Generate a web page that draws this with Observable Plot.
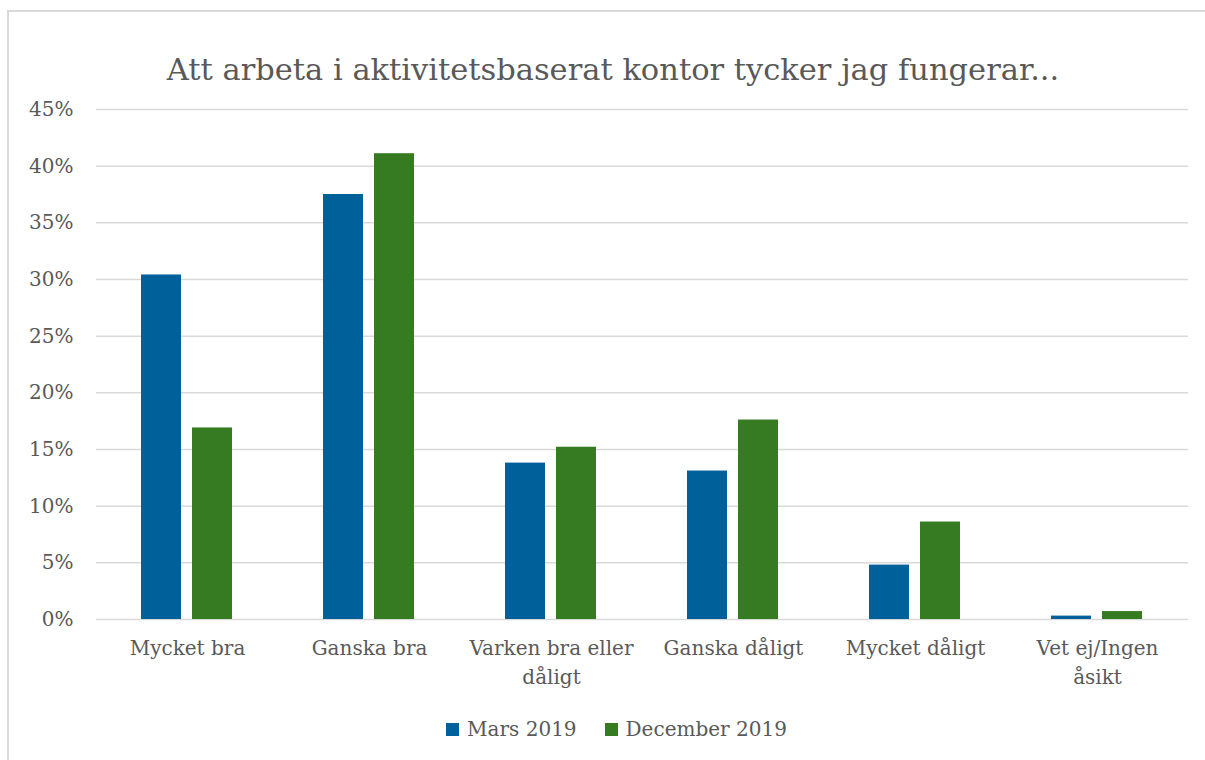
<!DOCTYPE html>
<html>
<head>
<meta charset="utf-8">
<script src="https://cdn.jsdelivr.net/npm/d3@7"></script>
<script src="https://cdn.jsdelivr.net/npm/@observablehq/plot@0.6"></script>
<style>
  html, body { margin: 0; padding: 0; background: #fff; }
  #wrap { position: relative; width: 1205px; height: 760px; overflow: hidden; font-family: "DejaVu Serif", serif; color: #595959; }
  #frame { position: absolute; left: 7px; top: 10px; width: 1300px; height: 900px; border-left: 2px solid #d9d9d9; border-top: 2px solid #d9d9d9; }
  #title { position: absolute; left: 8px; width: 1210px; top: 50px; text-align: center; font-size: 30.5px; line-height: 40px; white-space: nowrap; }
  #chart { position: absolute; left: 0; top: 90px; }
  #legend { position: absolute; left: 14px; width: 1205px; top: 714px; text-align: center; font-size: 20px; line-height: 30px; white-space: nowrap; }
  .sw { display: inline-block; width: 13px; height: 13px; margin-right: 8px; vertical-align: 0px; }
  .item { display: inline-block; margin: 0 14px; }
</style>
</head>
<body>
<div id="wrap">
  <div id="frame"></div>
  <div id="title"></div>
  <div id="chart"></div>
  <div id="legend"></div>
</div>
<script>
const title = "Att arbeta i aktivitetsbaserat kontor tycker jag fungerar...";
const categories = ["Mycket bra", "Ganska bra", "Varken bra eller dåligt", "Ganska dåligt", "Mycket dåligt", "Vet ej/Ingen åsikt"];
const categoryLabels = ["Mycket bra", "Ganska bra", "Varken bra eller\ndåligt", "Ganska dåligt", "Mycket dåligt", "Vet ej/Ingen\nåsikt"];
const seriesNames = ["Mars 2019", "December 2019"];
const mars2019 = [30.4, 37.5, 13.8, 13.1, 4.8, 0.3];
const december2019 = [16.9, 41.1, 15.2, 17.6, 8.6, 0.7];
const yTicks = [0, 5, 10, 15, 20, 25, 30, 35, 40, 45];
const colors = ["#00609a", "#367b21"];

const seriesValues = [mars2019, december2019];
const data = [];
categories.forEach((c, i) => {
  seriesNames.forEach((s, j) => data.push({category: c, series: s, value: seriesValues[j][i]}));
});
const labelOf = new Map(categories.map((c, i) => [c, categoryLabels[i]]));

document.getElementById("title").textContent = title;

const chart = Plot.plot({
  width: 1205,
  height: 610,
  marginLeft: 95,
  marginRight: 17,
  marginTop: 19,
  marginBottom: 81,
  style: {fontFamily: "'DejaVu Serif', serif", fontSize: "20px", color: "#595959", background: "transparent"},
  fx: {domain: categories, padding: 0, label: null},
  x: {domain: seriesNames, paddingInner: 0.21, paddingOuter: 0.858, axis: null},
  y: {domain: [0, 45], label: null},
  color: {domain: seriesNames, range: colors},
  marks: [
    Plot.gridY({ticks: yTicks, stroke: "#d9d9d9", strokeOpacity: 1, strokeWidth: 1.5}),
    Plot.axisY({ticks: yTicks, tickSize: 0, tickPadding: 23, tickFormat: d => d + "%", fontSize: 20, fill: "#595959", label: null}),
    Plot.axisFx({anchor: "bottom", tickSize: 0, tickPadding: 15, fontSize: 20, lineHeight: 1.45, fill: "#595959", label: null, tickFormat: d => labelOf.get(d)}),
    Plot.barY(data, {fx: "category", x: "series", y: "value", fill: "series"})
  ]
});
document.getElementById("chart").appendChild(chart);

const legend = document.getElementById("legend");
seriesNames.forEach((s, i) => {
  const it = document.createElement("span");
  it.className = "item";
  const sw = document.createElement("span");
  sw.className = "sw";
  sw.style.background = colors[i];
  it.appendChild(sw);
  it.appendChild(document.createTextNode(s));
  legend.appendChild(it);
});
</script>
</body>
</html>
